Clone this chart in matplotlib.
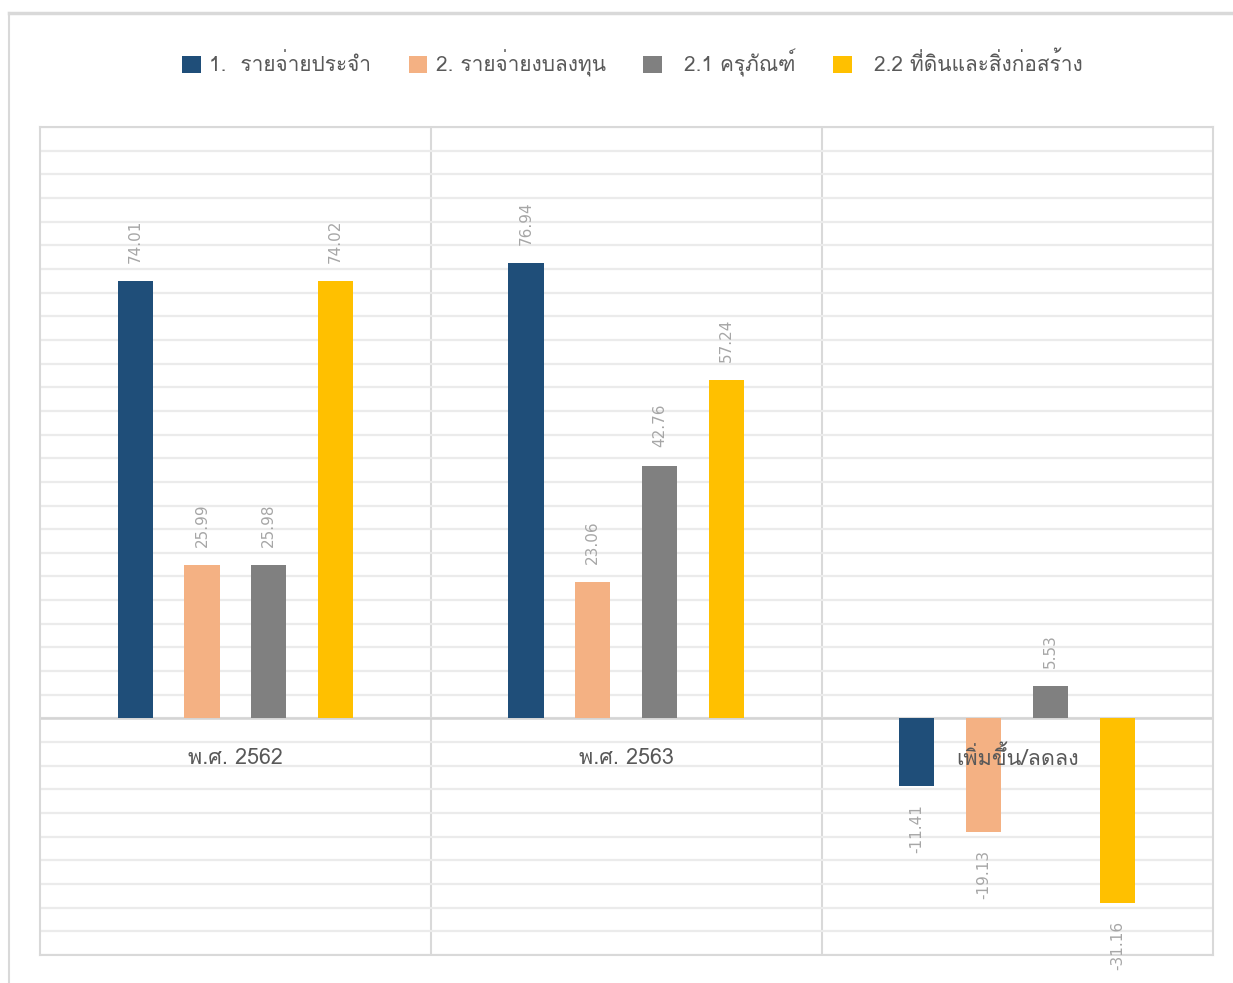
import matplotlib
matplotlib.use("Agg")
import matplotlib.pyplot as plt
import numpy as np
from matplotlib import font_manager
from matplotlib.ft2font import FT2Font
from matplotlib.lines import Line2D
from matplotlib.patches import Patch


CATEGORIES = ["พ.ศ. 2562", "พ.ศ. 2563", "เพิ่มขึ้น/ลดลง"]
SERIES = ["1.  รายจ่ายประจำ", "2. รายจ่ายงบลงทุน", "  2.1 ครุภัณฑ์", "  2.2 ที่ดินและสิ่งก่อสร้าง"]
COLORS = ["#1F4E79", "#F4B183", "#808080", "#FFC000"]

regular = [74.01, 76.94, -11.41]
capital = [25.99, 23.06, -19.13]
equipment = [25.98, 42.76, 5.53]
land = [74.02, 57.24, -31.16]
VALUES = [regular, capital, equipment, land]


def _thai_family():
    for f in font_manager.fontManager.ttflist:
        try:
            if 0x0E23 in FT2Font(f.fname).get_charmap():
                return f.name
        except Exception:
            continue
    return None


thai = _thai_family()
families = ([thai] if thai else []) + ["DejaVu Sans"]
plt.rcParams["font.family"] = families

fig = plt.figure(figsize=(12.33, 9.83), dpi=100)
ax = fig.add_axes([0.0324, 0.0285, 0.951, 0.8423])

x = np.arange(len(CATEGORIES))
width = 0.09
step = 0.171
for i, (vals, color) in enumerate(zip(VALUES, COLORS)):
    pos = x + (i - 1.5) * step
    ax.bar(pos, vals, width=width, color=color, zorder=3)
    for px, v in zip(pos, vals):
        ax.annotate(
            f"{v:.2f}",
            (px, v),
            xytext=(0, 13 if v >= 0 else -13),
            textcoords="offset points",
            rotation=90,
            ha="center",
            va="bottom" if v >= 0 else "top",
            fontsize=11,
            color="#A6A6A6",
            family="DejaVu Sans",
            zorder=4,
        )

for i, name in enumerate(CATEGORIES):
    ax.text(i, -6.8, name, ha="center", va="center", fontsize=15.5, color="#595959", zorder=5)

ax.set_xlim(-0.5, 2.5)
ax.set_ylim(-40, 100)
ax.set_yticks(np.arange(-40, 101, 4))
ax.set_xticks([])
ax.tick_params(axis="y", length=0, labelleft=False)
ax.grid(axis="y", color="#EBEBEB", linewidth=1.6, zorder=0)
ax.axhline(0, color="#D4D4D4", linewidth=1.8, zorder=2)
for b in [0.5, 1.5]:
    ax.axvline(b, color="#D9D9D9", linewidth=1.5, zorder=1)
for s in ax.spines.values():
    s.set_color("#D9D9D9")
    s.set_linewidth(1.5)

handles = [Patch(facecolor=c, edgecolor="none") for c in COLORS]
fig.legend(
    handles,
    SERIES,
    loc="center",
    bbox_to_anchor=(0.513, 0.936),
    ncol=4,
    frameon=False,
    fontsize=15,
    labelcolor="#595959",
    handlelength=0.9,
    handleheight=0.9,
    handletextpad=0.4,
    columnspacing=1.8,
)

fig.add_artist(Line2D([0.0073, 1.0], [0.987, 0.987], color="#D9D9D9", linewidth=2.5, transform=fig.transFigure))
fig.add_artist(Line2D([0.0073, 0.0073], [0.0, 0.987], color="#D9D9D9", linewidth=1.5, transform=fig.transFigure))

fig.savefig("out.png", dpi=100)
